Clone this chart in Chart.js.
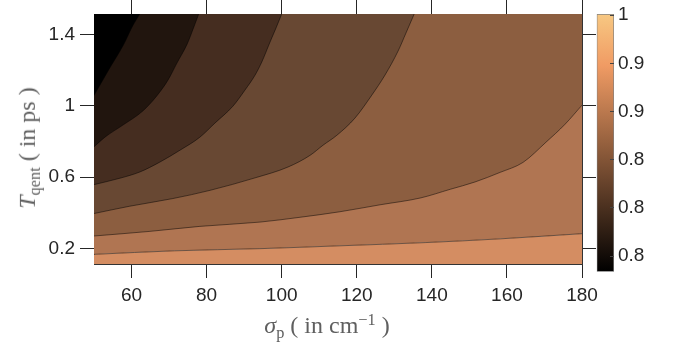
<!DOCTYPE html>
<html>
<head>
<meta charset="utf-8">
<script src="https://cdn.jsdelivr.net/npm/chart.js@4/dist/chart.umd.min.js"></script>
<style>
  body { margin: 0; background: #fff; }
  #wrap { position: relative; width: 678px; height: 347px; }
  #main { position: absolute; left: 0; top: 0; }
  #cbwrap { position: absolute; left: 590px; top: 0; width: 88px; height: 347px; }
  .ttl { position: absolute; font-family: "Liberation Serif", "DejaVu Serif", serif; font-size: 24px;
         color: #5f5f5f; white-space: nowrap; line-height: 1; }
  .ttl sub { font-size: 0.68em; vertical-align: -0.3em; }
  .ttl sup { font-size: 0.68em; vertical-align: 0.5em; }
  #xtitle { left: 227px; width: 200px; top: 312px; text-align: center; }
  #ytitle { left: 29px; top: 148px; transform: translate(-50%, -50%) rotate(-90deg); }
</style>
</head>
<body>
<div id="wrap">
  <canvas id="main" width="678" height="347"></canvas>
  <div id="cbwrap"><canvas id="cbar" width="88" height="347"></canvas></div>
  <div class="ttl" id="xtitle"><i>σ</i><sub>p</sub>&nbsp;( in cm<sup>−1</sup> )</div>
  <div class="ttl" id="ytitle"><i>T</i><sub>qent</sub>&nbsp;( in ps )</div>
</div>
<script>
// axis ranges and ticks
const xMin = 50, xMax = 180;
const yMin = 0.113, yMax = 1.515;
const xTicks = [60, 80, 100, 120, 140, 160, 180];
const yTicks = [0.2, 0.6, 1, 1.4];

// colorbar
const cbMin = 0.747, cbMax = 0.961;
const cbTicks = [0.76, 0.80, 0.84, 0.88, 0.92, 0.96];
const cbLabels = ["0.8", "0.8", "0.8", "0.9", "0.9", "1"];

// contour boundaries (sigma_p, T_qent), darkest first
const c1X = [50, 54.2, 57.8, 60.4, 62.2];
const c1Y = [1.058, 1.212, 1.340, 1.452, 1.515];
const c2X = [50, 52.9, 57.7, 63, 66.7, 69.7, 72.1, 74.8, 76.6, 77.9];
const c2Y = [0.770, 0.824, 0.892, 0.971, 1.055, 1.144, 1.240, 1.346, 1.442, 1.515];
const c3X = [50, 56.9, 62.2, 67.5, 72.9, 78.2, 82.2, 87, 90.2, 92.9, 94.7, 96.9, 98.5, 100];
const c3Y = [0.558, 0.594, 0.629, 0.684, 0.751, 0.824, 0.903, 0.998, 1.088, 1.172, 1.246, 1.358, 1.437, 1.515];
const c4X = [50, 59.5, 71, 80.9, 92.9, 101.7, 107.6, 111, 114.7, 119.5, 124, 127.5, 131, 133.1, 135.3];
const c4Y = [0.396, 0.437, 0.480, 0.526, 0.596, 0.657, 0.723, 0.779, 0.835, 0.931, 1.060, 1.172, 1.307, 1.408, 1.515];
const c5X = [50, 64.9, 78.2, 94.2, 104.9, 115.5, 126.2, 136.9, 144.9, 151.5, 158.2, 164.3, 170.4, 175.5, 180];
const c5Y = [0.270, 0.296, 0.324, 0.348, 0.375, 0.406, 0.445, 0.483, 0.532, 0.573, 0.627, 0.683, 0.796, 0.897, 1.004];
const c6X = [50, 71.5, 94.2, 115.5, 138.2, 158.2, 180];
const c6Y = [0.167, 0.187, 0.199, 0.215, 0.233, 0.254, 0.283];

// band colours, darkest (top-left) to lightest (bottom)
const bandColors = ['#000000', '#21150e', '#452d20', '#684833', '#8c5e40', '#b07552', '#d48d62'];

const tickFont = { family: "'Liberation Sans', Arial, sans-serif", size: 19 };
const ink = '#262626';

function pts(xs, ys) {
    return xs.map((x, i) => ({ x: x, y: ys[i] }));
}

const bounds = [[c1X, c1Y], [c2X, c2Y], [c3X, c3Y], [c4X, c4Y], [c5X, c5Y], [c6X, c6Y]];

// dataset 0 is drawn last (on top), so darkest band first
const datasets = bounds.map((b, i) => ({
    data: pts(b[0], b[1]),
    backgroundColor: bandColors[i],
    fill: 'end',
    borderColor: 'rgba(0,0,0,0.6)',
    borderWidth: 0.8
}));
datasets.push({
    data: pts(c6X, c6Y),
    backgroundColor: bandColors[6],
    fill: 'start',
    borderWidth: 0
});

function setTicks(list) {
    return scale => { scale.ticks = list.map(v => ({ value: v })); };
}

// fixed box size, no extra label padding
function boxSize(w, h) {
    return scale => {
        if (w !== null) scale.width = w;
        if (h !== null) scale.height = h;
        scale.paddingTop = 0; scale.paddingBottom = 0;
        scale.paddingLeft = 0; scale.paddingRight = 0;
    };
}

const tickGrid = { drawOnChartArea: false, tickLength: 14, tickColor: ink };
const axisBorder = { color: '#333', width: 1 };

new Chart(document.getElementById('main'), {
    type: 'line',
    data: { datasets: datasets },
    options: {
        responsive: false,
        animation: false,
        layout: { padding: { left: 0, right: 82, top: 0, bottom: 0 } },
        elements: {
            point: { radius: 0 },
            line: { cubicInterpolationMode: 'monotone' }
        },
        plugins: { legend: { display: false }, tooltip: { enabled: false } },
        scales: {
            x: {
                type: 'linear', position: 'bottom', min: xMin, max: xMax,
                afterBuildTicks: setTicks(xTicks),
                afterFit: boxSize(null, 83),
                ticks: { font: tickFont, color: ink, padding: 6, maxRotation: 0 },
                grid: tickGrid, border: axisBorder
            },
            x2: {
                type: 'linear', position: 'top', min: xMin, max: xMax,
                afterBuildTicks: setTicks(xTicks),
                afterFit: boxSize(null, 14),
                ticks: { callback: () => '' },
                grid: tickGrid, border: axisBorder
            },
            y: {
                type: 'linear', position: 'left', min: yMin, max: yMax,
                afterBuildTicks: setTicks(yTicks),
                afterFit: boxSize(94, null),
                ticks: { font: tickFont, color: ink, padding: 5, callback: v => String(v) },
                grid: tickGrid, border: axisBorder
            },
            y2: {
                type: 'linear', position: 'right', min: yMin, max: yMax,
                afterBuildTicks: setTicks(yTicks),
                afterFit: boxSize(14, null),
                ticks: { callback: () => '' },
                grid: tickGrid, border: axisBorder
            }
        }
    }
});

// copper colormap
const cmapStops = [[0, 'rgb(0,0,0)'], [0.8, 'rgb(240,155,100)'], [1, 'rgb(247,200,130)']];

new Chart(document.getElementById('cbar'), {
    type: 'bar',
    data: {
        labels: ['cb'],
        datasets: [{
            data: [[cbMin, cbMax]],
            backgroundColor: ctx => {
                const a = ctx.chart.chartArea;
                if (!a) return '#000';
                const g = ctx.chart.ctx.createLinearGradient(0, a.bottom, 0, a.top);
                cmapStops.forEach(s => g.addColorStop(s[0], s[1]));
                return g;
            },
            borderColor: '#808080',
            borderWidth: 1,
            borderSkipped: false,
            barPercentage: 1,
            categoryPercentage: 1
        }]
    },
    options: {
        responsive: false,
        animation: false,
        layout: { padding: { left: 6.7, right: 0, top: 14, bottom: 75.3 } },
        plugins: { legend: { display: false }, tooltip: { enabled: false } },
        scales: {
            x: { display: false },
            y: {
                position: 'right', min: cbMin, max: cbMax,
                afterBuildTicks: setTicks(cbTicks),
                afterFit: boxSize(64, null),
                ticks: { font: tickFont, color: ink, padding: 8, callback: (v, i) => cbLabels[i] },
                grid: { drawOnChartArea: false, tickLength: -4, tickColor: '#444', z: 1 },
                border: { display: false }
            }
        }
    }
});
</script>
</body>
</html>
